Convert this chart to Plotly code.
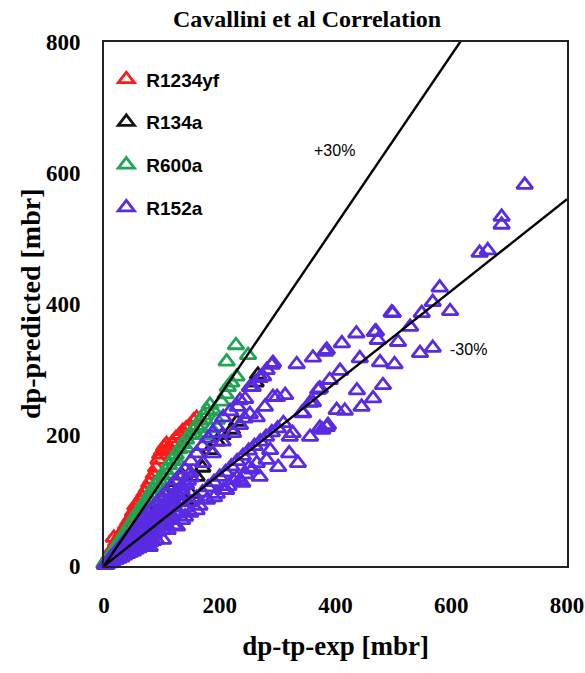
import plotly.graph_objects as go

# ---- measured vs. predicted two-phase pressure drop [mbr] ----
r1234yf_x = [1, 3, 5, 7, 9, 12, 15, 17, 21, 24, 27, 30, 34, 38, 42, 46, 50, 54, 58, 62,
             66, 70, 74, 78, 82, 86, 90, 94, 97, 100, 104, 108, 112, 118, 124, 130, 136,
             142, 148, 155, 160]
r1234yf_y = [2, 5, 9, 12, 15, 22, 26, 43, 36, 40, 45, 50, 55, 62, 68, 74, 82, 92, 94, 100,
             106, 112, 118, 126, 132, 140, 150, 162, 170, 175, 182, 186, 178, 188, 195, 200,
             206, 210, 214, 222, 226]

r134a_x = [2, 5, 8, 12, 16, 20, 25, 30, 35, 40, 45, 50, 55, 60, 66, 72, 78, 85, 92, 100,
           108, 116, 125, 135, 140, 150, 160, 170, 183, 195, 205, 221, 230, 262, 266]
r134a_y = [2, 5, 9, 13, 17, 21, 26, 31, 37, 42, 48, 54, 58, 64, 70, 78, 84, 90, 96, 104,
           112, 120, 128, 138, 100, 110, 136, 150, 177, 190, 200, 208, 220, 280, 292]

r600a_x = [1, 3, 5, 8, 11, 14, 17, 20, 24, 28, 32, 36, 40, 45, 50, 55, 60, 65, 70, 75,
           80, 85, 90, 95, 100, 106, 112, 118, 124, 130, 136, 142, 148, 154, 160, 166,
           172, 175, 178, 183, 185, 190, 195, 203, 210, 214, 220, 229, 212, 228, 249,
           62, 78, 94, 110, 126, 142, 158]
r600a_y = [4, 6, 9, 12, 16, 20, 24, 28, 34, 40, 45, 50, 56, 63, 70, 77, 84, 90, 97, 104,
           111, 118, 125, 131, 138, 146, 154, 162, 170, 178, 186, 193, 200, 208, 214, 222,
           230, 200, 238, 246, 210, 236, 223, 251, 262, 273, 280, 289, 312, 337, 322,
           80, 100, 120, 140, 160, 180, 200]

r152a_x = [
    # dense low-pressure-drop cluster
    5, 10, 15, 20, 25, 30, 35, 40, 45, 50, 55, 60, 65, 70, 75, 80, 85, 90,
    3, 8, 13, 18, 23, 28, 33, 38, 43, 48, 53, 58, 63, 68, 73, 78, 83, 88, 93, 98,
    103, 108, 113, 118, 123, 128,
    2, 6, 10, 14, 18, 22, 26, 30, 35, 40, 45, 50, 55, 60, 65, 70, 75, 80, 85, 90,
    95, 100, 105, 110, 115, 120, 125, 130, 135, 140, 145, 150,
    12, 20, 28, 36, 44, 52, 60, 68, 76, 84, 92, 100, 108, 116, 124, 132, 140,
    7, 17, 27, 37, 47, 57, 67, 77, 87, 97, 107, 117, 127, 137,
    4, 11, 19, 26, 33, 41, 48, 56, 63, 71, 78, 86, 94, 101, 109,
    9, 16, 24, 31, 39, 46, 54, 61, 69, 76, 84, 91, 99, 106, 114, 121,
    14, 22, 30, 38, 46, 54, 62, 70, 78, 86, 94, 102, 110, 118, 126, 134, 142,
    # upper branch
    150, 160, 170, 180, 188, 195, 206, 218, 231, 235, 244, 252, 257, 269, 275, 281,
    290, 292, 333, 361, 382, 385, 411, 436, 468, 470, 497, 499, 529, 549, 568, 580,
    598, 649, 663, 687, 687, 727,
    # middle branch
    149, 171, 188, 205, 223, 235, 243, 252, 264, 278, 292, 299, 313, 342, 344, 356,
    361, 370, 373, 390, 402, 408, 416, 437, 442, 445, 465, 473, 477, 482, 502, 508,
    546, 568,
    # lower branch
    79, 102, 110, 120, 126, 135, 140, 149, 160, 165, 178, 190, 195, 206, 211, 215,
    223, 230, 235, 239, 245, 250, 256, 264, 269, 281, 287, 301, 320, 321, 326, 335,
    356, 373, 377, 385, 387,
    105, 115, 125, 140, 150, 160, 170, 180, 190, 200, 210, 220, 230, 240, 250, 260,
    270, 280, 290, 300, 310,
]
r152a_y = [
    2, 4, 7, 9, 11, 13, 16, 18, 20, 22, 25, 27, 29, 31, 34, 36, 38, 40,
    2, 5, 8, 12, 15, 18, 21, 25, 28, 31, 34, 38, 41, 44, 47, 51, 54, 57, 60, 64,
    67, 70, 73, 77, 80, 83,
    2, 5, 9, 13, 16, 20, 23, 27, 32, 36, 40, 45, 50, 54, 58, 63, 68, 72, 77, 81,
    86, 90, 95, 99, 104, 108, 112, 117, 122, 126, 130, 135,
    13, 21, 29, 38, 46, 55, 63, 71, 80, 88, 97, 105, 113, 122, 130, 139, 147,
    5, 13, 21, 29, 37, 45, 53, 61, 69, 77, 85, 93, 101, 109,
    2, 6, 11, 15, 18, 23, 27, 31, 35, 40, 43, 48, 52, 56, 60,
    7, 12, 18, 24, 30, 36, 42, 48, 54, 60, 66, 72, 78, 84, 90, 96,
    12, 19, 26, 33, 40, 47, 54, 61, 68, 75, 82, 89, 96, 103, 110, 117, 124,
    160, 172, 183, 195, 203, 212, 227, 236, 243, 253, 255, 273, 273, 287, 289, 299,
    307, 310, 308, 318, 327, 330, 340, 355, 357, 358, 387, 386, 365, 386, 403, 425,
    389, 478, 482, 521, 533, 582,
    142, 157, 172, 190, 203, 215, 225, 232, 227, 243, 258, 258, 261, 234, 233, 249,
    250, 269, 271, 284, 238, 298, 237, 268, 317, 243, 256, 345, 311, 276, 308, 342,
    325, 333,
    29, 40, 55, 62, 60, 70, 75, 81, 85, 92, 101, 105, 110, 116, 116, 122,
    131, 135, 131, 127, 140, 150, 147, 157, 136, 162, 177, 151, 172, 197, 203, 157,
    197, 211, 208, 212, 215,
    65, 72, 80, 90, 97, 104, 112, 120, 128, 136, 143, 152, 160, 168, 176, 183,
    190, 197, 204, 210, 218,
]

series = [
    ("R1234yf", r1234yf_x, r1234yf_y, "#FF1A1A"),
    ("R134a", r134a_x, r134a_y, "#141414"),
    ("R600a", r600a_x, r600a_y, "#1FA553"),
    ("R152a", r152a_x, r152a_y, "#5A2BE3"),
]

# ±30 % error band
band_x = [0, 800]
band_pct = [30, -30]

SERIF = "Liberation Serif"
SANS = "Liberation Sans"

fig = go.Figure()

for i, (name, xs, ys, col) in enumerate(series):
    fig.add_trace(go.Scatter(
        x=xs, y=ys, mode="markers", name=name, legendgroup=f"g{i}",
        marker=dict(symbol="triangle-up-open", size=14, color=col,
                    line=dict(width=2.8, color=col)),
        cliponaxis=False,
    ))

for p in band_pct:
    fig.add_trace(go.Scatter(
        x=band_x, y=[v * (1 + p / 100) for v in band_x], mode="lines",
        line=dict(color="black", width=2.4), showlegend=False, hoverinfo="skip",
    ))

fig.add_annotation(x=399, y=635, text="+30%", showarrow=False,
                   font=dict(family=SANS, size=16, color="black"))
fig.add_annotation(x=629, y=330, text="-30%", showarrow=False,
                   font=dict(family=SANS, size=16, color="black"))

# y-axis title, placed in paper pixels left of the tick labels
fig.add_annotation(x=-74, xref="x domain", xshift=0, y=0.5, yref="y domain",
                   text="dp-predicted [mbr]", textangle=-90, showarrow=False,
                   xanchor="center", yanchor="middle",
                   font=dict(family=SERIF, size=28, color="black", weight="bold"))

axis_common = dict(
    range=[0, 800], tickvals=[0, 200, 400, 600, 800], showgrid=False, zeroline=False,
    showline=True, linecolor="#222", linewidth=2, mirror=True, ticks="",
    automargin=False,
    tickfont=dict(family=SERIF, size=23, color="black", weight="bold"),
)

fig.update_layout(
    width=585, height=673,
    margin=dict(l=104, r=18, t=42, b=107),
    paper_bgcolor="white", plot_bgcolor="white",
    title=dict(text="Cavallini et al Correlation", x=0.525, xanchor="center",
               y=0.973, yanchor="middle",
               font=dict(family=SERIF, size=24, color="black", weight="bold")),
    xaxis=dict(axis_common, ticklabelstandoff=17,
               title=dict(text="dp-tp-exp [mbr]", standoff=20,
                          font=dict(family=SERIF, size=27, color="black", weight="bold"))),
    yaxis=dict(axis_common, ticklabelstandoff=17),
    legend=dict(x=0.005, y=0.965, xanchor="left", yanchor="top", bgcolor="rgba(0,0,0,0)",
                tracegroupgap=15, itemwidth=30,
                font=dict(family=SANS, size=19, color="black", weight="bold")),
    showlegend=True,
)
# express the y-title offset in domain units (-74 px from the plot's left edge)
fig.layout.annotations[-1].x = -74 / (585 - 104 - 18)

fig.write_html("out.html")
